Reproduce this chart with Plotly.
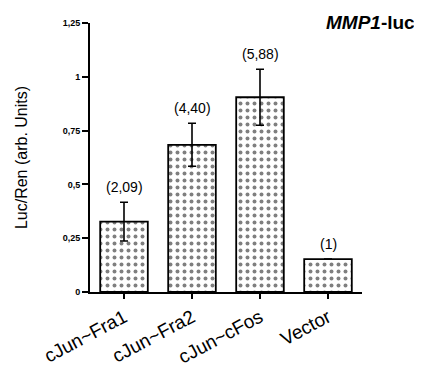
import plotly.graph_objects as go

categories = ["cJun~Fra1", "cJun~Fra2", "cJun~cFos", "Vector"]
values = [0.327, 0.684, 0.905, 0.153]
errors = [0.09, 0.10, 0.13, 0.0]
fold_labels = ["(2,09)", "(4,40)", "(5,88)", "(1)"]
tick_vals = [0, 0.25, 0.5, 0.75, 1, 1.25]
tick_text = ["<b>0</b>", "<b>0,25</b>", "<b>0,5</b>", "<b>0,75</b>", "<b>1</b>", "<b>1,25</b>"]

fig = go.Figure()
fig.add_trace(go.Bar(
    x=categories, y=values, width=0.7,
    marker=dict(color="white", line=dict(color="black", width=1.8),
                pattern=dict(shape=".", fgcolor="black", bgcolor="white",
                             size=7, solidity=0.25)),
    error_y=dict(type="data", array=errors, visible=True, color="black",
                 thickness=1.6, width=4),
    showlegend=False,
))

for c, v, e, t in zip(categories, values, errors, fold_labels):
    fig.add_annotation(x=c, y=v + e, text=t, showarrow=False, yanchor="bottom",
                       yshift=5, font=dict(size=14, color="black",
                                            family="Liberation Sans, Arial"))

fig.add_annotation(xref="paper", yref="paper", x=1.03, y=1.0, xanchor="center",
                   yanchor="middle", yshift=1, showarrow=False,
                   text="<b><i>MMP1</i>-luc</b>",
                   font=dict(size=19, color="black", family="Liberation Sans, Arial"))

fig.update_layout(
    width=414, height=362,
    margin=dict(l=82, r=60, t=15, b=78),
    plot_bgcolor="white", paper_bgcolor="white",
    font=dict(family="Liberation Sans, Arial", color="black"),
)
fig.update_xaxes(range=[-0.5, 3.5], showline=True, linecolor="black", linewidth=2,
                 ticks="outside", ticklen=5, tickwidth=1.5, tickcolor="black",
                 tickangle=-28, tickfont=dict(size=19), showgrid=False,
                 automargin=False)
fig.update_yaxes(range=[0, 1.25], tickvals=tick_vals, ticktext=tick_text,
                 showline=True, linecolor="black", linewidth=2,
                 ticks="outside", ticklen=6, tickwidth=1.5, tickcolor="black",
                 tickfont=dict(size=9, family="Liberation Sans, Arial"),
                 showgrid=False, zeroline=False, automargin=False,
                 title=dict(text="Luc/Ren (arb. Units)", font=dict(size=16), standoff=31))

fig.write_html("out.html")
